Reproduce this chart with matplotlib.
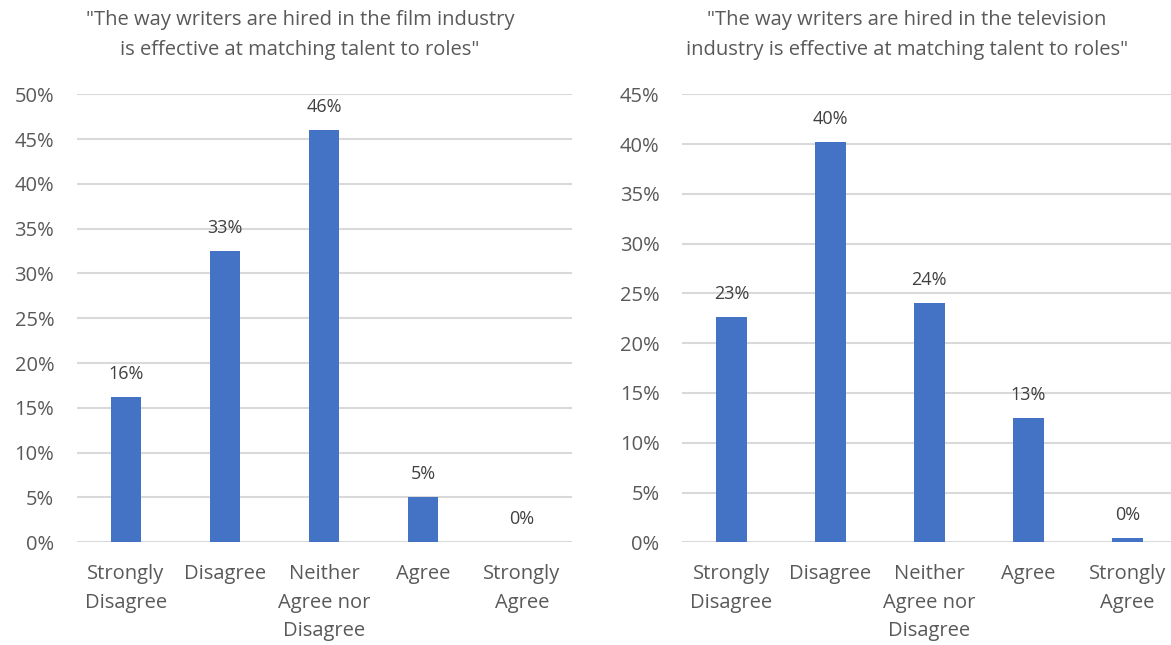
import matplotlib
matplotlib.use('Agg')
import matplotlib.pyplot as plt

plt.rcParams['font.family'] = ['Open Sans', 'DejaVu Sans']

categories = ['Strongly\nDisagree', 'Disagree', 'Neither\nAgree nor\nDisagree', 'Agree', 'Strongly\nAgree']
film = [16.2, 32.5, 46.0, 5.1, 0.0]
tv = [22.6, 40.2, 24.0, 12.5, 0.4]
film_labels = ['16%', '33%', '46%', '5%', '0%']
tv_labels = ['23%', '40%', '24%', '13%', '0%']
film_title = '"The way writers are hired in the film industry\nis effective at matching talent to roles"'
tv_title = '"The way writers are hired in the television\nindustry is effective at matching talent to roles"'

BAR = '#4472C4'
GRID = '#D9D9D9'
TXT = '#595959'

W, H = 1171, 645
fig = plt.figure(figsize=(W/100, H/100), dpi=100)

def panel(x0, x1, vals, labels, ymax, xmax, title, tcx):
    ax = fig.add_axes([x0/W, 1-542.3/H, (x1-x0)/W, 448/H])
    xs = list(range(len(vals)))
    ax.bar(xs, vals, width=0.31, color=BAR, zorder=3)
    for x, v, l in zip(xs, vals, labels):
        ax.annotate(l, (x, v), xytext=(0, 10), textcoords='offset points',
                    ha='center', va='bottom', fontsize=13, color='#404040')
    ax.set_ylim(0, ymax)
    ax.set_xlim(-0.5, xmax)
    ax.set_yticks(range(0, ymax+1, 5))
    ax.set_yticklabels([f'{t}%' for t in range(0, ymax+1, 5)])
    ax.set_xticks(xs)
    ax.set_xticklabels(categories, linespacing=1.58)
    ax.tick_params(axis='y', length=0, pad=16, labelsize=14.5, labelcolor=TXT)
    ax.tick_params(axis='x', length=0, pad=15.5, labelsize=14.5, labelcolor=TXT)
    ax.grid(axis='y', color=GRID, linewidth=1.5, zorder=0)
    for s in ax.spines.values():
        s.set_visible(False)
    fig.text(tcx/W, 1-10/H, title, ha='center', va='top', fontsize=14.5,
             color=TXT, linespacing=1.7)
    return ax

panel(76.5, 571.5, film, film_labels, 50, 4.5, film_title, 300)
panel(681.8, 1171, tv, tv_labels, 45, 4.44, tv_title, 907)

fig.savefig('out.png', dpi=100)
